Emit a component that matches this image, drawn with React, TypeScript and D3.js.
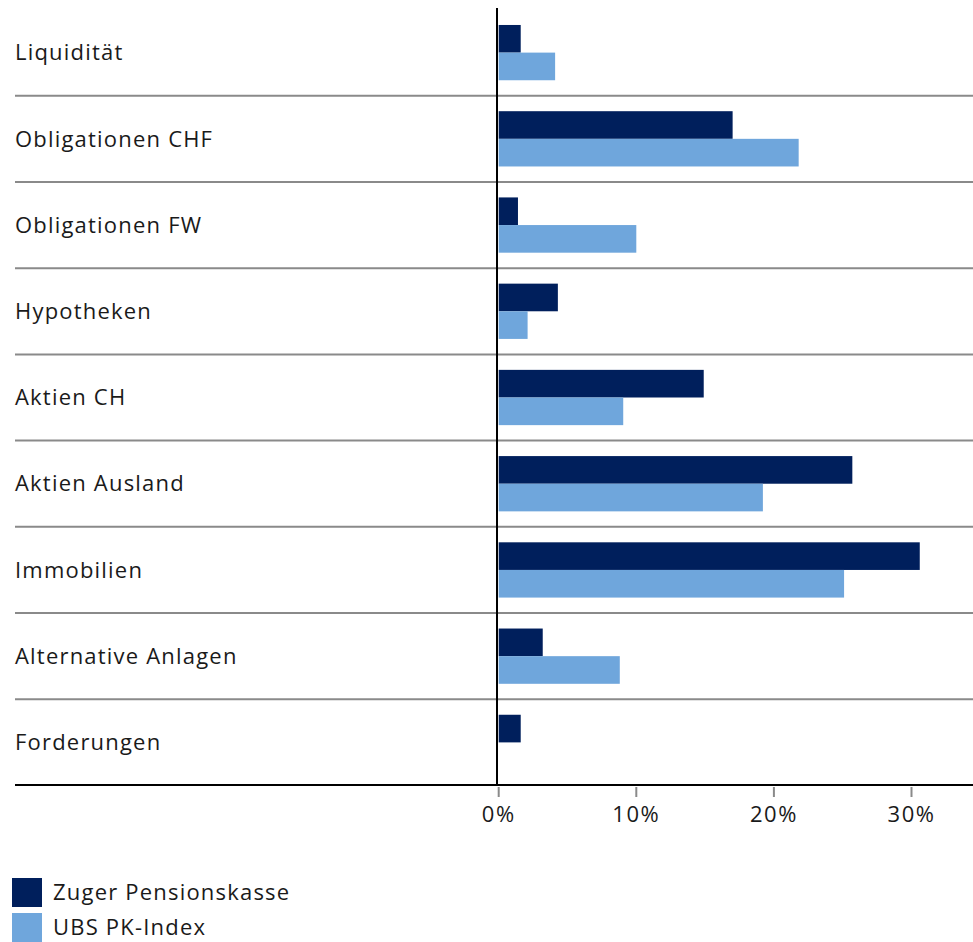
import React from "react";
import * as d3 from "d3";

const categories = [
  "Liquidität",
  "Obligationen CHF",
  "Obligationen FW",
  "Hypotheken",
  "Aktien CH",
  "Aktien Ausland",
  "Immobilien",
  "Alternative Anlagen",
  "Forderungen",
];
const seriesNames = ["Zuger Pensionskasse", "UBS PK-Index"];
const zugerValues = [1.6, 17.0, 1.4, 4.3, 14.9, 25.7, 30.6, 3.2, 1.6];
const ubsValues = [4.1, 21.8, 10.0, 2.1, 9.05, 19.2, 25.1, 8.8, 0];
const tickValues = [0, 10, 20, 30];
const colors = ["#001f5c", "#6fa6dc"];

const W = 973;
const H = 942;
const FONT = "'Open Sans', 'Noto Sans', sans-serif";

export default function App() {
  const x = d3.scaleLinear().domain([0, 10]).range([498.7, 636.3]);
  const y = d3.scaleBand<string>().domain(categories).range([9.5, 785.5]).padding(0);
  const sub = d3
    .scaleBand<string>()
    .domain(seriesNames)
    .range([0, y.step()])
    .paddingInner(0)
    .paddingOuter(0.56);
  const seriesValues = [zugerValues, ubsValues];
  const axisY = 785;

  return (
    <svg
      width={W}
      height={H}
      style={{ position: "absolute", left: 0, top: 0, background: "#fff" }}
      fontFamily={FONT}
    >
      {categories.slice(1).map((c) => (
        <line key={"sep" + c} x1={15} x2={W} y1={y(c)!} y2={y(c)!} stroke="#8a8a8a" strokeWidth={2} />
      ))}
      {categories.map((c, i) =>
        seriesNames.map((s, j) => {
          const v = seriesValues[j][i];
          if (!v) return null;
          return (
            <rect
              key={c + s}
              x={x(0)}
              y={y(c)! + sub(s)!}
              width={x(v) - x(0)}
              height={sub.bandwidth()}
              fill={colors[j]}
            />
          );
        })
      )}
      {categories.map((c) => (
        <text key={"lab" + c} x={15} y={y(c)! + y.step() / 2} dy="0.35em" fontSize={22} letterSpacing={1.2} fill="#1a1a1a">
          {c}
        </text>
      ))}
      <line x1={497} x2={497} y1={8} y2={axisY} stroke="#000" strokeWidth={2} />
      <line x1={15} x2={W} y1={axisY} y2={axisY} stroke="#000" strokeWidth={2} />
      {tickValues.map((t) => (
        <g key={"t" + t}>
          <line x1={x(t)} x2={x(t)} y1={787} y2={797} stroke="#8a8a8a" strokeWidth={2} />
          <text x={x(t)} y={822} textAnchor="middle" fontSize={22} letterSpacing={1.5} fill="#1a1a1a">
            {t}%
          </text>
        </g>
      ))}
      {seriesNames.map((s, j) => (
        <g key={"leg" + s}>
          <rect x={12} y={878 + j * 35} width={30} height={29} fill={colors[j]} />
          <text x={53} y={892.5 + j * 35} dy="0.35em" fontSize={22} letterSpacing={1.2} fill="#1a1a1a">
            {s}
          </text>
        </g>
      ))}
    </svg>
  );
}
